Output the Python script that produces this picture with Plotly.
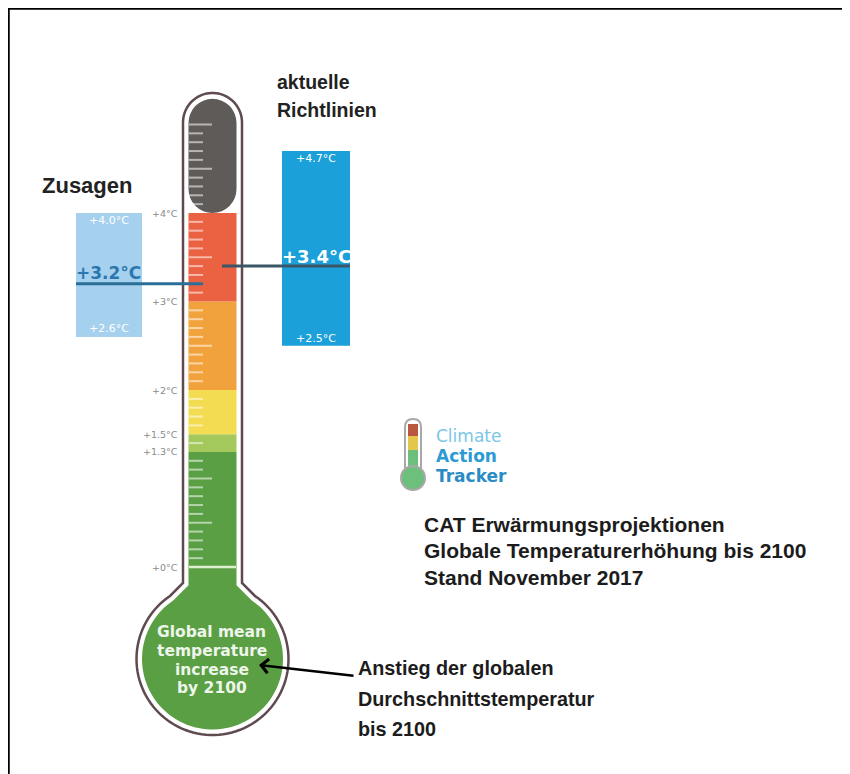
import numpy as np
import plotly.graph_objects as go

# colour bands of the thermometer (warming in °C)
band_lo = [0.0, 1.3, 1.5, 2.0, 3.0]
band_hi = [1.3, 1.5, 2.0, 3.0, 4.0]
band_colors = ['#5b9f45', '#a3c95c', '#f3dc52', '#f2a23c', '#eb6242']
top_band = [4.0, 5.29]
scale_vals = [4, 3, 2, 1.5, 1.3, 0]
scale_text = ['+4°C', '+3°C', '+2°C', '+1.5°C', '+1.3°C', '+0°C']

# CAT warming projections for 2100
groups = ['Zusagen', 'aktuelle Richtlinien']
proj_low = [2.6, 2.5]
proj_mid = [3.2, 3.4]
proj_high = [4.0, 4.7]

W, H = 850, 774
OFF = 8                     # page body margin
Y0, PX = 567, 88.5          # pixel row of 0°C, pixels per degree


def t(py):
    # pixel row -> temperature units of the y axis
    return (Y0 - py) / PX


CX, BULB_Y, R_OUT, HW_OUT, TOP_OUT, NECK_Y = 212.5, 659, 76, 29.5, 93, 583


def outline(inset, cut=None):
    hw = HW_OUT - inset
    r = R_OUT - inset
    top = TOP_OUT + inset
    neck = NECK_Y + inset * 0.41
    b = 2 * hw + 2 * (neck - BULB_Y)
    c = hw ** 2 + (neck - BULB_Y) ** 2 - r ** 2
    s = (-b - np.sqrt(b * b - 8 * c)) / 4
    ly = neck + s
    aL = np.degrees(np.arctan2(ly - BULB_Y, -(hw + s))) % 360
    aR = np.degrees(np.arctan2(ly - BULB_Y, hw + s))
    pts = [(CX - hw, top + hw if cut is None else cut), (CX - hw, neck)]
    for a in np.radians(np.linspace(aL, aR, 90)):
        pts.append((CX + r * np.cos(a), BULB_Y + r * np.sin(a)))
    pts.append((CX + hw, neck))
    if cut is None:
        for a in np.radians(np.linspace(0, -180, 40)):
            pts.append((CX + hw * np.cos(a), top + hw + hw * np.sin(a)))
    else:
        pts.append((CX + hw, cut))
    return 'M ' + ' L '.join(f'{x:.2f},{t(y):.4f}' for x, y in pts) + ' Z'


fig = go.Figure()

# thermometer bands
fig.add_trace(go.Bar(x=[CX] * len(band_lo), y=np.array(band_hi) - np.array(band_lo), base=band_lo,
                     width=48, marker=dict(color=band_colors, line_width=0)))
fig.add_trace(go.Bar(x=[CX], y=[top_band[1] - top_band[0]], base=[top_band[0]], width=48,
                     marker=dict(color='#5f5b59', line_width=0, cornerradius='50%')))

# projection boxes
fig.add_trace(go.Bar(x=[109, 316], y=np.array(proj_high) - np.array(proj_low), base=proj_low,
                     width=[66, 68], marker=dict(color=['#a5d0ee', '#1ba0d9'], line_width=0)))

# scale ticks inside the tube
tx, ty = [], []
for v in np.round(np.arange(0.1, 5.05, 0.1), 1):
    if v in band_hi:
        continue
    long_tick = abs(v * 2 - round(v * 2)) < 1e-6
    tx += [189, 212 if long_tick else 203, None]
    ty += [v, v, None]
fig.add_trace(go.Scatter(x=tx, y=ty, mode='lines', line=dict(color='rgba(255,255,255,0.55)', width=2),
                         hoverinfo='skip'))
fig.add_trace(go.Scatter(x=[189, 236], y=[0, 0], mode='lines', line=dict(color='#dcefcf', width=2.5),
                         hoverinfo='skip'))

# median lines
fig.add_trace(go.Scatter(x=[76, 203], y=[proj_mid[0]] * 2, mode='lines', line=dict(color='#2a6f98', width=3)))
fig.add_trace(go.Scatter(x=[222, 350], y=[proj_mid[1]] * 2, mode='lines', line=dict(color='#3b5667', width=3)))

shapes = [
    dict(type='path', path=outline(0), fillcolor='white', line=dict(color='#5e4a4f', width=2.5), layer='below'),
    dict(type='path', path=outline(5.5, cut=Y0), fillcolor='#5b9f45', line=dict(width=0), layer='below'),
    # logo thermometer
    dict(type='path', path=f'M 405,{t(472)} L 405,{t(427)} Q 405,{t(419)} 413,{t(419)} Q 421,{t(419)} 421,{t(427)} L 421,{t(472)} Z',
         fillcolor='white', line=dict(color='#a8a8a8', width=2), layer='below'),
    dict(type='rect', x0=408, x1=418, y0=t(436), y1=t(424), fillcolor='#b7583f', line_width=0, layer='below'),
    dict(type='rect', x0=408, x1=418, y0=t(450), y1=t(436), fillcolor='#e4c64a', line_width=0, layer='below'),
    dict(type='rect', x0=408, x1=418, y0=t(472), y1=t(450), fillcolor='#6cc07c', line_width=0, layer='below'),
    dict(type='circle', x0=401, x1=425, y0=t(490), y1=t(466), fillcolor='#6cc07c',
         line=dict(color='#a8a8a8', width=2), layer='below'),
    # frame
    dict(type='line', xref='paper', yref='paper', x0=0, x1=0, y0=0, y1=1,
         line=dict(color='black', width=3.5)),
    dict(type='line', xref='paper', yref='paper', x0=0, x1=1, y0=1, y1=1,
         line=dict(color='black', width=3.5)),
]

ann = []
for v, s in zip(scale_vals, scale_text):
    ann.append(dict(x=180, y=v, text=s, xanchor='right', yanchor='middle', showarrow=False,
                    font=dict(family='DejaVu Sans', size=9.5, color='#8a8a8a')))

sans_b = 'Liberation Sans'
box_font = 'DejaVu Sans'
ann += [
    dict(x=40, y=t(185), text='<b>Zusagen</b>', xanchor='left', showarrow=False,
         font=dict(family=sans_b, size=22, color='#222')),
    dict(x=275, y=t(82), text='<b>aktuelle</b>', xanchor='left', showarrow=False,
         font=dict(family=sans_b, size=19.5, color='#222')),
    dict(x=275, y=t(110), text='<b>Richtlinien</b>', xanchor='left', showarrow=False,
         font=dict(family=sans_b, size=19.5, color='#222')),
    # box labels
    dict(x=109, y=proj_high[0] - 0.08, text=f'+{proj_high[0]:.1f}°C', showarrow=False,
         font=dict(family=box_font, size=11, color='white')),
    dict(x=109, y=proj_low[0] + 0.09, text=f'+{proj_low[0]:.1f}°C', showarrow=False,
         font=dict(family=box_font, size=11, color='white')),
    dict(x=108, y=proj_mid[0] + 0.12, text=f'<b>+{proj_mid[0]:.1f}°C</b>', showarrow=False,
         font=dict(family=box_font, size=17, color='#2a78ae')),
    dict(x=316, y=proj_high[1] - 0.08, text=f'+{proj_high[1]:.1f}°C', showarrow=False,
         font=dict(family=box_font, size=11, color='white')),
    dict(x=316, y=proj_low[1] + 0.08, text=f'+{proj_low[1]:.1f}°C', showarrow=False,
         font=dict(family=box_font, size=11, color='white')),
    dict(x=316, y=proj_mid[1] + 0.11, text=f'<b>+{proj_mid[1]:.1f}°C</b>', showarrow=False,
         font=dict(family=box_font, size=18, color='white')),
    # arrow
    dict(x=259, y=t(665), ax=355, ay=t(676), axref='x', ayref='y', text='', showarrow=True,
         arrowhead=4, arrowsize=1.1, arrowwidth=2.5, arrowcolor='black'),
]
# logo words
for i, (word, col) in enumerate([('Climate', '#7cc6e6'), ('<b>Action</b>', '#2c9bd3'), ('<b>Tracker</b>', '#2a8cc4')]):
    ann.append(dict(x=434, y=t(436 + i * 20), text=word, xanchor='left', showarrow=False,
                    font=dict(family='DejaVu Sans', size=17, color=col)))
for i, line in enumerate(['Global mean', 'temperature', 'increase', 'by 2100']):
    ann.append(dict(x=CX - 1, y=t(632 + i * 18.8), text=f'<b>{line}</b>', showarrow=False, height=18,
                    font=dict(family='DejaVu Sans', size=15.5, color='#eef5ea')))
for i, line in enumerate(['CAT Erwärmungsprojektionen', 'Globale Temperaturerhöhung bis 2100', 'Stand November 2017']):
    ann.append(dict(x=422, y=t(524 + i * 26.5), text=f'<b>{line}</b>', xanchor='left', showarrow=False,
                    font=dict(family=sans_b, size=21, color='#1c1c1c')))
for i, line in enumerate(['Anstieg der globalen', 'Durchschnittstemperatur', 'bis 2100']):
    ann.append(dict(x=356, y=t(668 + i * 30.5), text=f'<b>{line}</b>', xanchor='left', showarrow=False,
                    font=dict(family=sans_b, size=19.8, color='#1c1c1c')))

fig.update_layout(
    width=W - OFF, height=H - OFF, margin=dict(l=0, r=0, t=0, b=0),
    paper_bgcolor='white', plot_bgcolor='white', showlegend=False, barmode='overlay',
    xaxis=dict(range=[OFF, W], visible=False, fixedrange=True),
    yaxis=dict(range=[t(H), t(OFF)], visible=False, fixedrange=True),
    shapes=shapes, annotations=ann,
)

fig.write_html('out.html')
